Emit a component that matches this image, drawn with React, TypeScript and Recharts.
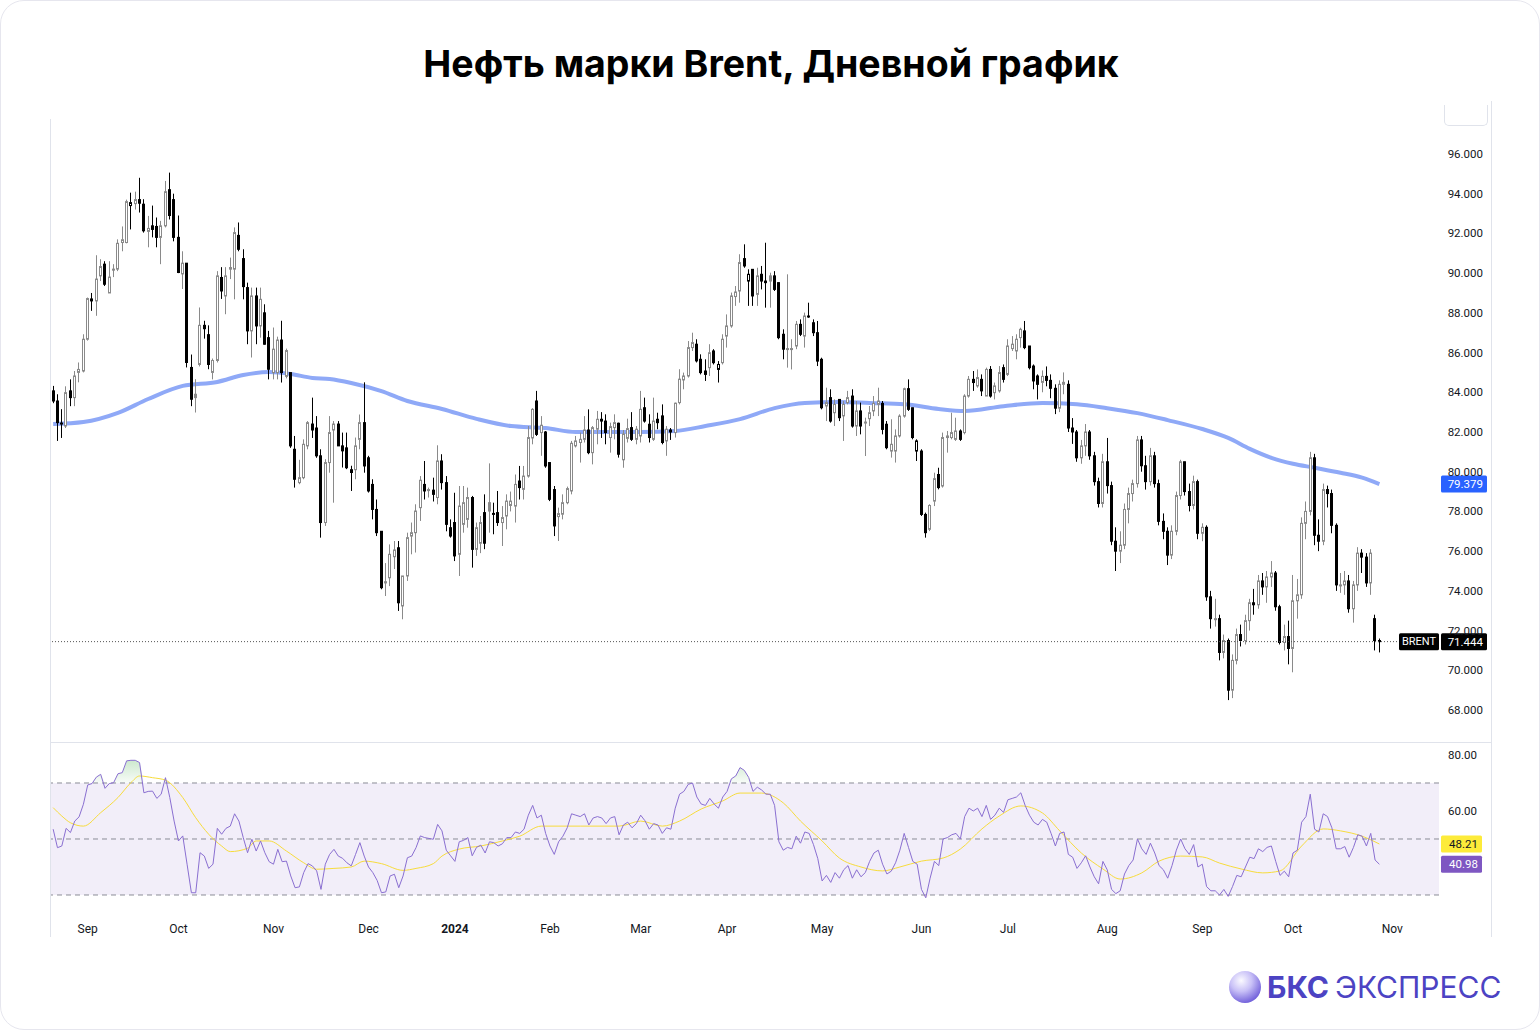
import React from 'react'
import {
  ComposedChart,
  Bar,
  Line,
  Area,
  XAxis,
  YAxis,
  ReferenceLine,
  ReferenceArea,
} from 'recharts'

// month ticks: bar index of the first trading day of each month
const monthTicks = [8, 29, 51, 73, 93, 115, 136, 156, 178, 201, 221, 244, 266, 287, 310]
const monthLabels = ['Sep', 'Oct', 'Nov', 'Dec', '2024', 'Feb', 'Mar', 'Apr', 'May', 'Jun', 'Jul', 'Aug', 'Sep', 'Oct', 'Nov']
const priceTicks = [68, 70, 72, 74, 76, 78, 80, 82, 84, 86, 88, 90, 92, 94, 96]
const rsiTicks = [80, 60]
const rsiLevels = [70, 50, 30]

// daily Brent candles, 22 Aug 2023 .. 29 Oct 2024
const opens = [
  84.07, 83.56, 82.4, 82.3, 84.07, 83.73, 85.0, 85.07, 86.67, 88.6,
  88.6, 89.86, 90.45, 89.0, 90.2, 90.2, 91.54, 91.54, 93.4, 93.5,
  93.7, 93.47, 92.1, 92.38, 92.35, 91.8, 92.38, 94.2, 93.7, 91.8,
  89.96, 90.5, 85.25, 83.9, 85.4, 87.37, 86.9, 85.0, 85.6, 89.78,
  88.85, 90.28, 90.2, 91.9, 90.73, 89.27, 87.09, 88.85, 87.34, 88.0,
  86.75, 84.99, 84.99, 86.63, 84.8, 84.99, 81.13, 79.45, 79.7, 81.3,
  82.4, 82.2, 80.8, 77.44, 80.46, 82.1, 82.4, 81.3, 81.2, 80.1,
  80.1, 81.63, 82.47, 80.7, 79.36, 78.1, 77.0, 74.46, 74.66, 75.72,
  76.17, 73.24, 74.75, 76.76, 76.93, 78.19, 79.36, 79.1, 79.07, 78.7,
  80.54, 79.45, 77.18, 77.44, 75.84, 77.35, 77.6, 78.7, 76.09, 76.4,
  77.94, 78.44, 77.9, 77.94, 77.44, 77.77, 78.3, 78.27, 79.53, 79.11,
  79.78, 81.7, 83.56, 81.97, 82.0, 80.46, 79.1, 77.74, 77.86, 78.44,
  79.03, 81.3, 81.47, 81.63, 82.1, 80.96, 82.14, 82.64, 82.55, 81.72,
  82.22, 82.44, 80.6, 81.68, 82.22, 81.63, 81.8, 83.22, 82.39, 81.63,
  82.64, 82.81, 81.55, 82.1, 81.97, 83.48, 84.62, 84.82, 86.25, 86.42,
  85.66, 85.07, 85.24, 86.08, 85.15, 85.49, 86.83, 87.34, 88.82, 89.1,
  90.73, 89.6, 90.19, 88.93, 89.94, 89.6, 89.86, 89.86, 89.52, 86.92,
  86.2, 86.2, 86.33, 87.42, 86.83, 87.84, 87.5, 87.0, 85.66, 83.31,
  83.73, 82.97, 83.64, 82.81, 83.48, 83.81, 82.3, 83.06, 82.5, 82.67,
  83.06, 83.39, 83.44, 82.39, 81.04, 81.04, 81.8, 82.8, 84.18, 83.22,
  81.04, 81.04, 77.85, 77.1, 78.52, 79.86, 79.28, 81.72, 81.72, 81.63,
  82.05, 81.97, 83.81, 84.65, 84.32, 84.65, 83.81, 85.15, 83.98, 84.07,
  85.24, 84.9, 86.2, 86.08, 86.75, 87.09, 86.33, 85.32, 84.82,
  84.5, 84.8, 84.6, 84.2, 83.2, 84.4, 84.4, 82.2, 82.0, 80.7,
  81.3, 82.0, 80.8, 79.5, 78.4, 80.5, 79.3, 76.5, 76.0, 76.3,
  78.1, 78.9, 79.4, 81.6, 80.3, 79.5, 80.8, 79.4, 77.5, 77.0,
  75.8, 77.0, 78.8, 80.5, 79.0, 78.3, 79.5, 76.9, 77.2, 73.7,
  72.6, 72.6, 70.9, 71.5, 69.0, 70.5, 71.8, 71.5, 72.5, 73.4,
  73.3, 74.5, 74.2, 74.7, 74.9, 73.2, 71.4, 71.7, 71.1, 73.5,
  73.8, 77.4, 78.0, 80.7, 76.8, 76.5, 79.1, 78.9, 77.3, 74.3,
  74.3, 74.5, 73.1, 74.3, 75.9, 75.7, 74.4, 72.6, 71.5,
]

const highs = [
  84.32, 83.9, 83.15, 84.3, 84.65, 85.07, 85.5, 86.92, 88.77, 89.0,
  90.9, 90.7, 90.6, 90.6, 90.45, 91.7, 92.35, 93.7, 94.05, 94.1,
  94.8, 93.72, 92.88, 93.4, 92.8, 92.63, 94.64, 95.06, 94.0, 92.9,
  91.1, 90.5, 85.9, 84.66, 88.27, 87.6, 87.37, 85.7, 90.1, 90.3,
  90.3, 90.78, 92.3, 92.55, 91.2, 89.52, 89.27, 89.27, 89.27, 88.43,
  87.09, 87.26, 86.8, 87.6, 86.2, 85.0, 81.8, 80.6, 81.63, 82.55,
  83.73, 82.8, 81.13, 80.63, 82.8, 82.55, 82.55, 81.97, 81.97, 80.3,
  81.72, 82.88, 84.5, 80.8, 79.62, 78.6, 77.0, 75.4, 76.34, 76.51,
  76.51, 74.75, 76.93, 77.44, 78.36, 79.78, 80.54, 79.2, 79.7, 81.33,
  80.88, 79.78, 77.6, 78.94, 79.28, 79.28, 79.2, 78.78, 77.44, 77.77,
  78.86, 80.42, 78.44, 79.03, 78.27, 78.86, 79.0, 79.86, 80.29, 80.29,
  82.3, 83.2, 84.07, 82.8, 82.05, 80.46, 79.28, 78.19, 78.86, 79.25,
  81.55, 81.8, 81.97, 82.8, 83.14, 82.3, 83.06, 83.0, 82.89, 82.47,
  82.89, 82.47, 82.1, 82.67, 83.0, 82.3, 84.07, 83.73, 82.89, 83.73,
  82.97, 83.39, 82.3, 82.2, 83.48, 85.16, 84.99, 86.58, 87.0, 86.67,
  85.91, 85.66, 86.42, 86.17, 85.57, 86.92, 87.92, 89.02, 89.35, 90.95,
  91.45, 90.19, 90.19, 90.27, 90.36, 91.53, 90.02, 90.1, 89.52, 87.17,
  89.94, 86.67, 87.59, 87.67, 88.01, 88.51, 87.67, 87.59, 85.74, 84.23,
  84.15, 83.64, 83.64, 83.56, 84.07, 84.15, 83.56, 83.48, 82.72, 83.31,
  83.81, 84.23, 83.56, 82.55, 82.64, 82.13, 82.89, 84.23, 84.65, 83.22,
  81.63, 81.13, 77.94, 78.36, 79.95, 80.2, 81.97, 82.05, 82.97, 82.72,
  82.13, 83.9, 84.82, 85.07, 85.15, 84.9, 85.24, 85.32, 84.49, 85.32,
  85.4, 86.67, 86.83, 86.92, 87.25, 87.59, 86.33, 85.4, 84.9,
  85.1, 85.3, 84.9, 84.4, 84.6, 85.0, 84.6, 82.7, 82.1, 81.6,
  82.4, 82.1, 81.0, 79.7, 80.9, 81.7, 79.5, 77.2, 77.0, 78.4,
  79.2, 79.6, 81.8, 81.8, 80.8, 81.2, 81.0, 79.6, 77.9, 77.2,
  77.3, 79.0, 80.6, 80.5, 79.4, 79.8, 79.6, 77.4, 77.3, 74.0,
  73.6, 72.8, 71.8, 71.6, 70.8, 72.1, 72.3, 72.8, 73.6, 74.1,
  74.8, 74.9, 75.0, 75.5, 75.0, 73.3, 72.3, 72.5, 74.8, 74.6,
  77.7, 78.5, 81.0, 80.9, 77.6, 79.4, 79.3, 79.1, 77.4, 74.9,
  75.0, 74.8, 74.5, 76.2, 76.1, 75.9, 76.1, 72.8, 71.6,
]

const lows = [
  83.45, 81.55, 81.7, 82.2, 83.3, 83.3, 84.5, 85.0, 86.6, 88.1,
  87.85, 89.6, 89.35, 89.0, 89.8, 90.1, 91.1, 91.5, 92.2, 93.2,
  93.05, 92.04, 91.3, 91.8, 91.3, 90.45, 92.3, 92.7, 91.6, 90.0,
  89.2, 85.25, 83.3, 82.98, 85.3, 86.7, 85.16, 84.65, 85.5, 88.7,
  87.93, 89.7, 88.68, 91.1, 88.68, 86.42, 85.75, 86.42, 86.75, 86.4,
  84.65, 84.65, 84.65, 84.49, 84.7, 81.2, 79.2, 79.37, 79.62, 81.13,
  81.7, 80.7, 76.68, 77.27, 79.95, 78.44, 81.3, 80.21, 80.13, 79.03,
  79.62, 81.13, 79.95, 78.95, 77.6, 76.76, 74.08, 73.74, 74.24, 75.1,
  72.99, 72.57, 74.5, 75.84, 75.93, 77.52, 78.6, 78.7, 78.5, 78.36,
  79.1, 77.0, 76.68, 75.5, 74.75, 76.93, 77.18, 75.17, 75.76, 75.9,
  76.1, 76.93, 76.85, 77.27, 76.26, 77.1, 78.0, 77.44, 78.6, 78.6,
  79.7, 81.38, 81.8, 80.8, 80.2, 78.52, 76.76, 76.51, 77.6, 78.36,
  78.86, 81.22, 80.46, 81.47, 80.88, 80.37, 81.38, 81.7, 81.38, 80.96,
  81.63, 80.71, 80.2, 81.47, 81.55, 81.38, 81.47, 82.47, 81.47, 81.55,
  82.14, 81.38, 80.8, 81.6, 81.72, 83.39, 84.15, 84.74, 86.08, 85.5,
  84.9, 84.57, 84.82, 85.4, 84.49, 85.4, 86.25, 87.25, 88.35, 88.51,
  90.27, 88.35, 88.35, 88.35, 89.18, 88.26, 88.26, 89.1, 86.67, 85.66,
  85.24, 85.15, 86.17, 86.83, 86.25, 87.75, 86.83, 85.32, 83.14, 82.55,
  82.47, 82.3, 82.55, 81.55, 83.39, 82.22, 81.8, 81.88, 80.79, 82.3,
  82.8, 82.8, 81.88, 81.13, 80.71, 80.46, 81.72, 82.72, 83.06, 81.63,
  80.54, 77.77, 76.68, 77.01, 78.27, 79.11, 79.2, 80.96, 81.63, 81.55,
  81.55, 81.88, 83.73, 84.07, 84.23, 83.81, 83.81, 83.73, 83.64, 83.98,
  84.49, 84.82, 86.08, 85.66, 86.25, 86.17, 85.15, 84.15, 83.64,
  84.0, 84.3, 83.7, 82.9, 83.0, 83.9, 82.0, 81.4, 80.5, 80.4,
  80.8, 80.6, 79.3, 78.2, 78.2, 78.9, 76.3, 75.0, 75.4, 76.1,
  77.4, 78.5, 79.2, 80.0, 79.1, 79.3, 79.2, 77.3, 76.6, 75.3,
  75.6, 76.8, 78.6, 78.8, 78.0, 78.1, 76.6, 76.5, 73.5, 72.1,
  72.2, 70.5, 70.6, 68.5, 68.6, 70.3, 71.2, 71.3, 72.0, 72.8,
  73.1, 73.8, 73.4, 74.2, 73.0, 71.3, 71.0, 70.3, 69.9, 72.6,
  73.6, 76.6, 77.8, 76.3, 76.0, 76.3, 78.2, 76.9, 74.0, 73.9,
  73.8, 72.9, 72.4, 74.0, 74.9, 74.2, 73.8, 71.0, 70.9,
]

const closes = [
  83.56, 82.47, 82.45, 83.98, 83.73, 84.82, 85.15, 86.67, 88.72, 88.7,
  89.7, 90.33, 89.44, 89.8, 90.15, 91.5, 91.68, 93.6, 93.55, 93.7,
  93.52, 92.13, 92.25, 92.2, 91.8, 92.38, 94.1, 92.9, 91.8, 90.03,
  90.5, 85.5, 83.65, 83.73, 87.37, 87.2, 85.4, 85.6, 89.86, 89.1,
  89.86, 90.2, 92.04, 91.2, 89.32, 87.09, 88.85, 87.34, 88.68, 86.42,
  85.16, 86.17, 86.63, 84.99, 86.1, 81.3, 79.62, 79.7, 81.38, 82.47,
  82.1, 80.8, 77.44, 80.46, 81.97, 82.4, 81.3, 81.05, 80.2, 79.96,
  81.3, 82.47, 80.29, 79.03, 78.1, 76.93, 74.16, 74.4, 75.84, 76.06,
  73.4, 74.75, 76.68, 76.93, 78.02, 79.57, 79.03, 79.1, 78.86, 80.54,
  79.45, 77.35, 76.76, 75.76, 78.27, 78.44, 78.7, 76.09, 77.18, 77.44,
  76.4, 78.02, 77.9, 77.44, 77.69, 78.52, 78.52, 79.36, 79.2, 79.78,
  81.72, 83.14, 81.88, 82.34, 80.29, 78.61, 77.27, 77.89, 78.44, 79.15,
  81.43, 81.55, 81.63, 82.1, 80.96, 82.22, 82.64, 82.55, 81.97, 82.27,
  82.47, 80.88, 81.9, 82.17, 81.63, 82.14, 83.14, 82.55, 81.72, 82.55,
  82.47, 81.47, 82.14, 82.0, 83.45, 84.66, 84.82, 86.25, 86.5, 85.58,
  84.99, 84.9, 85.99, 85.49, 85.4, 86.67, 87.34, 88.85, 89.05, 90.53,
  90.36, 89.94, 88.85, 89.86, 89.6, 89.52, 89.6, 89.18, 86.75, 86.17,
  86.17, 86.2, 87.42, 86.92, 87.84, 87.8, 87.0, 85.57, 83.22, 83.48,
  82.55, 83.39, 82.72, 83.39, 83.73, 82.3, 83.06, 82.3, 82.5, 82.97,
  83.44, 83.56, 82.13, 81.21, 81.38, 81.8, 82.8, 84.18, 83.14, 81.72,
  81.55, 77.85, 76.93, 78.3, 79.65, 79.2, 81.72, 81.8, 81.97, 82.05,
  81.63, 83.81, 84.65, 84.49, 84.74, 84.07, 85.15, 83.81, 84.32, 84.99,
  84.65, 86.33, 86.42, 86.67, 87.17, 86.25, 85.24, 84.57, 84.4,
  84.8, 84.6, 84.2, 83.2, 84.4, 84.5, 82.2, 82.0, 80.7, 81.3,
  82.0, 80.8, 79.5, 78.4, 80.5, 79.3, 76.5, 76.0, 76.3, 78.1,
  78.9, 79.4, 81.6, 80.3, 79.5, 80.8, 79.4, 77.5, 77.0, 75.8,
  77.0, 78.8, 80.5, 79.0, 78.3, 79.5, 76.9, 77.2, 73.7, 72.6,
  72.6, 70.9, 71.5, 69.0, 70.5, 71.8, 71.5, 72.5, 73.4, 73.3,
  74.5, 74.2, 74.7, 74.9, 73.2, 71.4, 71.7, 71.1, 73.5, 73.8,
  77.4, 78.0, 80.7, 76.8, 76.5, 79.1, 78.9, 77.3, 74.3, 74.3,
  74.5, 73.1, 74.3, 75.9, 75.7, 74.4, 75.9, 71.5, 71.444,
]

// RSI(14), one value per candle
const rsiValues = [
  53.5, 46.9, 47.5, 53.8, 52.3, 56.4, 57.9, 62.4, 69.3, 69.8,
  72.1, 73.1, 68.1, 69.8, 70.1, 73.3, 73.7, 77.9, 78.1, 78.1,
  77.3, 66.5, 67.0, 67.1, 64.5, 66.0, 71.9, 64.8, 56.4, 49.3,
  51.1, 41.0, 30.8, 30.8, 45.1, 43.9, 39.5, 41.0, 53.8, 51.7,
  53.8, 54.6, 59.0, 56.4, 50.5, 45.1, 49.9, 45.7, 49.3, 45.1,
  41.9, 41.0, 46.3, 41.9, 42.1, 36.8, 32.6, 32.9, 38.0, 41.2,
  40.4, 38.6, 32.0, 41.0, 44.5, 46.3, 43.9, 43.1, 41.5, 40.4,
  44.5, 48.7, 43.9, 40.0, 38.0, 35.2, 30.8, 31.1, 36.8, 37.4,
  32.6, 36.8, 43.3, 43.9, 46.9, 51.1, 50.5, 50.2, 49.9, 55.2,
  52.9, 46, 44, 42, 49, 49.5, 50.5, 44, 47, 47.8,
  45, 49, 48.7, 47.5, 48.3, 50.5, 50.5, 52.5, 52, 53.5,
  58.5, 62, 57.5, 58.5, 52, 47.5, 44.5, 49, 51, 54,
  59, 58.5, 58, 59, 55, 57.5, 58, 57.5, 55.5, 57.5,
  58, 51.5, 55, 56, 54, 55.5, 58.5, 56.5, 53.5, 55.5,
  55, 52, 54, 53.5, 61, 66, 67, 69.5, 70, 65,
  62.5, 62, 64.5, 62.5, 61, 65, 67, 71.5, 72.5, 75.5,
  74.5, 72, 67, 68.5, 67.5, 66, 66, 62, 49, 46,
  47, 46.5, 51, 48.5, 52.5, 52, 48, 43, 35, 37,
  34.5, 38, 36, 39, 40.5, 36, 39, 36.5, 38, 42,
  45, 46, 41, 37.5, 38.5, 41.5, 46, 52, 47, 42,
  41, 32, 29, 36, 42, 40.5, 50, 50.5, 51.5, 52,
  50, 58, 61, 60, 61, 58, 62, 57, 58.5, 61,
  59.5, 64, 64.5, 65, 66.5, 62, 58.5, 56, 55,
  57, 56, 52, 47.5, 52, 52.5, 44.5, 43.5, 39.5, 41.5,
  44, 40, 36.5, 34, 42, 39, 32, 30.5, 31.5, 37.5,
  40.5, 42.5, 50, 46.5, 44.5, 48.5, 45, 40.5, 39, 36,
  40.5, 46, 50, 46.5, 44.5, 48, 40, 41, 33, 31.5,
  31.5, 30, 32, 29.5, 33, 37, 36.5, 40, 43.5, 43,
  46.5, 45.5, 47, 47.5, 42, 37, 38.5, 36.5, 45, 46,
  56, 58, 66, 53.5, 52.5, 59, 58, 54, 46.5, 46.5,
  47.3, 43.5, 47, 51.5, 51, 47.5, 52, 42.5, 40.98,
]

// moving average on price, read at [bar index, value]
const smaPoints: [number, number][] = [
  [0, 82.4], [7, 82.5], [15, 82.96], [22, 83.66], [30, 84.32], [38, 84.52], [44, 84.87],
  [50, 85.02], [55, 84.92], [60, 84.72], [64, 84.67], [69, 84.47], [76, 84.06], [82, 83.56],
  [90, 83.16], [98, 82.66], [106, 82.3], [114, 82.2], [121, 82.0], [128, 82.0], [136, 82.0],
  [144, 82.05], [151, 82.3], [159, 82.65], [167, 83.2], [174, 83.46], [182, 83.51], [189, 83.46],
  [197, 83.4], [205, 83.16], [211, 83.06], [220, 83.3], [229, 83.46], [237, 83.4], [244, 83.2],
  [251, 82.95], [258, 82.6], [266, 82.15], [272, 81.7], [277, 81.15], [282, 80.7], [287, 80.4],
  [292, 80.2], [298, 79.95], [303, 79.7], [307, 79.379],
]

// RSI moving average, read at [bar index, value]
const rsiMaPoints: [number, number][] = [
  [0, 61.2], [2, 58.2], [4, 55.8], [7, 54.6], [11, 59.4], [15, 64.8], [18, 70.1], [20, 72.5],
  [23, 71.9], [26, 71.0], [30, 64.8], [33, 57.6], [36, 51.7], [39, 47.5], [41, 45.5], [45, 46.7],
  [47, 49.3], [50, 49.3], [54, 45.7], [58, 41.5], [61, 39.2], [65, 39.5], [69, 40], [72, 42.1],
  [76, 41.2], [81, 38.8], [84, 39.5], [88, 41.2], [90, 43.9], [94, 46.4], [99, 47.5], [104, 49.3],
  [108, 51], [113, 54.6], [122, 54.6], [131, 54.6], [136, 56.4], [141, 54.6], [145, 56.4],
  [150, 60.7], [155, 63.6], [159, 66.4], [164, 66.4], [169, 62.9], [173, 56.4], [178, 49.3],
  [182, 43.2], [187, 40], [192, 38.6], [196, 40], [201, 42.1], [206, 43.2], [210, 46.4],
  [215, 53.6], [219, 58.2], [224, 61.8], [229, 59.3], [233, 52.9], [238, 45], [243, 39.3],
  [247, 35.7], [252, 37.9], [256, 42.1], [261, 43.9], [266, 43.6], [270, 41.4], [275, 39.3],
  [280, 37.9], [284, 38.6], [289, 47.5], [294, 53.6], [298, 52.9], [303, 51], [307, 48.21],
]

type Row = {
  i: number
  o: number
  h: number
  l: number
  c: number
  prev: number
  rsi: number
  sma?: number
  rsiMa?: number
}

const rows: Row[] = closes.map((c, i) => ({
  i,
  o: opens[i],
  h: highs[i],
  l: lows[i],
  c,
  prev: i > 0 ? closes[i - 1] : opens[i],
  rsi: rsiValues[i],
}))
smaPoints.forEach(([i, v]) => {
  rows[i].sma = v
})
rsiMaPoints.forEach(([i, v]) => {
  rows[i].rsiMa = v
})

const lastClose = closes[closes.length - 1]
const lastSma = smaPoints[smaPoints.length - 1][1]
const lastRsi = rsiValues[rsiValues.length - 1]
const lastRsiMa = rsiMaPoints[rsiMaPoints.length - 1][1]

const X_DOMAIN: [number, number] = [-0.5, 320.8]
const FONT = 'Roboto, "Noto Sans", sans-serif'
const TEXT = '#131722'
const FRAME = '#e0e3eb'
const SCALE_RIGHT = 1482

function Candle(props: any) {
  const { x, y, width, height, payload } = props
  if (x == null || y == null || !payload) return null
  const { o, h, l, c, prev } = payload as Row
  const cx = Math.floor(x + width / 2) + 0.5
  const span = h - l
  const toY = (v: number) => (span > 0 ? y + ((h - v) / span) * height : y)
  const top = toY(Math.max(o, c))
  const bottom = toY(Math.min(o, c))
  const color = c >= prev ? '#8a8a8a' : '#000000'
  const hollow = c >= o
  return (
    <g>
      <line x1={cx} x2={cx} y1={y} y2={y + height} stroke={color} strokeWidth={1} />
      <rect
        x={cx - 1}
        y={top}
        width={2}
        height={Math.max(bottom - top, 1)}
        fill={hollow ? '#ffffff' : color}
        stroke={color}
        strokeWidth={1}
      />
    </g>
  )
}

function PriceTick({ y, payload }: any) {
  return (
    <text x={SCALE_RIGHT} y={y} dy="0.35em" textAnchor="end" fontSize={11.5} fill={TEXT} fontFamily={FONT}>
      {Number(payload.value).toFixed(3)}
    </text>
  )
}

function RsiTick({ y, payload }: any) {
  return (
    <text x={1476} y={y} dy="0.35em" textAnchor="end" fontSize={11.5} fill={TEXT} fontFamily={FONT}>
      {Number(payload.value).toFixed(2)}
    </text>
  )
}

function MonthTick({ x, payload, index }: any) {
  const label = monthLabels[index] ?? ''
  return (
    <text
      x={x}
      y={191}
      textAnchor="middle"
      fontSize={12}
      fontWeight={label === '2024' ? 700 : 400}
      fill={TEXT}
      fontFamily={FONT}
    >
      {label}
    </text>
  )
}

function ScaleTag({ viewBox, text, bg, fg, tag, boxW = 46 }: any) {
  if (!viewBox) return null
  const y = viewBox.y
  return (
    <g>
      {tag && (
        <>
          <rect x={1398} y={y - 8.5} width={40} height={17} fill="#000" rx={1.5} />
          <text x={1418} y={y} dy="0.35em" textAnchor="middle" fontSize={11} fill="#fff" fontFamily={FONT}>
            {tag}
          </text>
        </>
      )}
      <rect x={1440} y={y - 8.5} width={boxW} height={17} fill={bg} rx={1.5} />
      <text
        x={1440 + boxW - 4}
        y={y}
        dy="0.35em"
        textAnchor="end"
        fontSize={11.5}
        fill={fg}
        fontFamily={FONT}
      >
        {text}
      </text>
    </g>
  )
}

export default function App() {
  return (
    <div
      style={{
        position: 'absolute',
        left: 0,
        top: 0,
        width: 1540,
        height: 1030,
        background: '#fff',
        border: '1px solid #e6e6ee',
        borderRadius: 24,
        boxSizing: 'border-box',
        overflow: 'hidden',
        fontFamily: FONT,
      }}
    >
      <div
        style={{
          position: 'absolute',
          top: 42,
          left: 0,
          width: 1540,
          textAlign: 'center',
          fontFamily: 'Inter, "Noto Sans", sans-serif',
          fontWeight: 700,
          fontSize: 37.5,
          lineHeight: '42px',
          color: '#000',
        }}
      >
        Нефть марки Brent, Дневной график
      </div>

      {/* frame of the chart panes */}
      <div style={{ position: 'absolute', left: 49, top: 118, width: 1, height: 818, background: FRAME }} />
      <div style={{ position: 'absolute', left: 1490, top: 100, width: 1, height: 836, background: FRAME }} />
      <div style={{ position: 'absolute', left: 50, top: 741, width: 1440, height: 1, background: FRAME }} />
      <div
        style={{
          position: 'absolute',
          left: 1443,
          top: 104,
          width: 42,
          height: 20,
          border: `1px solid ${FRAME}`,
          borderTop: 'none',
          borderRadius: '0 0 5px 5px',
          background: '#fff',
        }}
      />

      <div style={{ position: 'absolute', left: 0, top: 0 }}>
        <ComposedChart width={1540} height={741} data={rows} margin={{ top: 118, right: 50, left: 50, bottom: 0 }}>
          <XAxis type="number" dataKey="i" domain={X_DOMAIN} allowDataOverflow hide />
          <YAxis
            orientation="right"
            width={52}
            domain={[66.39, 97.76]}
            allowDataOverflow
            ticks={priceTicks}
            tick={<PriceTick />}
            axisLine={false}
            tickLine={false}
            interval={0}
          />
          <Line
            type="monotone"
            dataKey="sma"
            connectNulls
            stroke="#8fa9f7"
            strokeWidth={4}
            dot={false}
            activeDot={false}
            isAnimationActive={false}
            zIndex={250}
          />
          <ReferenceLine y={lastClose} stroke="#555" strokeDasharray="1 2" />
          <Bar
            dataKey={(d: Row) => [d.l, d.h]}
            barSize={4}
            shape={<Candle />}
            isAnimationActive={false}
          />
          <ReferenceLine
            y={lastSma}
            stroke="none"
            label={<ScaleTag text={lastSma.toFixed(3)} bg="#2962ff" fg="#fff" />}
          />
          <ReferenceLine
            y={lastClose}
            stroke="none"
            label={<ScaleTag text={lastClose.toFixed(3)} bg="#000" fg="#fff" tag="BRENT" />}
          />
        </ComposedChart>
      </div>

      <div style={{ position: 'absolute', left: 0, top: 741 }}>
        <ComposedChart width={1540} height={195} data={rows} margin={{ top: 0, right: 50, left: 50, bottom: 0 }}>
          <defs>
            <linearGradient id="obFill" x1="0" y1="0" x2="0" y2="1">
              <stop offset="0%" stopColor="#4caf50" stopOpacity={0.28} />
              <stop offset="100%" stopColor="#4caf50" stopOpacity={0.04} />
            </linearGradient>
          </defs>
          <XAxis
            type="number"
            dataKey="i"
            domain={X_DOMAIN}
            allowDataOverflow
            ticks={monthTicks}
            interval={0}
            tick={<MonthTick />}
            axisLine={false}
            tickLine={false}
            height={24}
          />
          <YAxis
            orientation="right"
            width={52}
            domain={[23.57, 84.64]}
            allowDataOverflow
            ticks={rsiTicks}
            tick={<RsiTick />}
            axisLine={false}
            tickLine={false}
            interval={0}
          />
          <ReferenceArea y1={30} y2={70} fill="#7e57c2" fillOpacity={0.1} stroke="none" ifOverflow="visible" />
          {rsiLevels.map((lv) => (
            <ReferenceLine key={lv} y={lv} stroke="#8a8d96" strokeDasharray="5 4" />
          ))}
          <Area
            type="linear"
            dataKey={(d: Row) => [70, Math.max(d.rsi, 70)]}
            stroke="none"
            fill="url(#obFill)"
            fillOpacity={1}
            dot={false}
            activeDot={false}
            isAnimationActive={false}
          />
          <Area
            type="linear"
            dataKey={(d: Row) => [Math.min(d.rsi, 30), 30]}
            stroke="none"
            fill="#f23645"
            fillOpacity={0.08}
            dot={false}
            activeDot={false}
            isAnimationActive={false}
          />
          <Line
            type="monotone"
            dataKey="rsiMa"
            connectNulls
            stroke="#f7dc3c"
            strokeWidth={1}
            dot={false}
            activeDot={false}
            isAnimationActive={false}
          />
          <Line
            type="linear"
            dataKey="rsi"
            stroke="#8a6fd1"
            strokeWidth={1}
            dot={false}
            activeDot={false}
            isAnimationActive={false}
          />
          <ReferenceLine
            y={lastRsiMa}
            stroke="none"
            label={<ScaleTag text={lastRsiMa.toFixed(2)} bg="#fdeb3a" fg="#131722" boxW={41} />}
          />
          <ReferenceLine
            y={lastRsi}
            stroke="none"
            label={<ScaleTag text={lastRsi.toFixed(2)} bg="#7e57c2" fg="#fff" boxW={41} />}
          />
        </ComposedChart>
      </div>

      <svg
        width={290}
        height={50}
        style={{ position: 'absolute', left: 1222, top: 962 }}
      >
        <defs>
          <radialGradient id="bksBall" cx="38%" cy="30%" r="75%">
            <stop offset="0%" stopColor="#fbfaff" />
            <stop offset="45%" stopColor="#c9c1f7" />
            <stop offset="100%" stopColor="#6a58d8" />
          </radialGradient>
        </defs>
        <circle cx={22} cy={24} r={16} fill="url(#bksBall)" />
        <text x={44} y={35} fontSize={30} fontWeight={700} fill="#4c43c3" fontFamily="Inter, sans-serif">
          БКС
        </text>
        <text x={112} y={35} fontSize={30} fontWeight={400} fill="#4c43c3" fontFamily="Inter, sans-serif">
          ЭКСПРЕСС
        </text>
      </svg>
    </div>
  )
}
